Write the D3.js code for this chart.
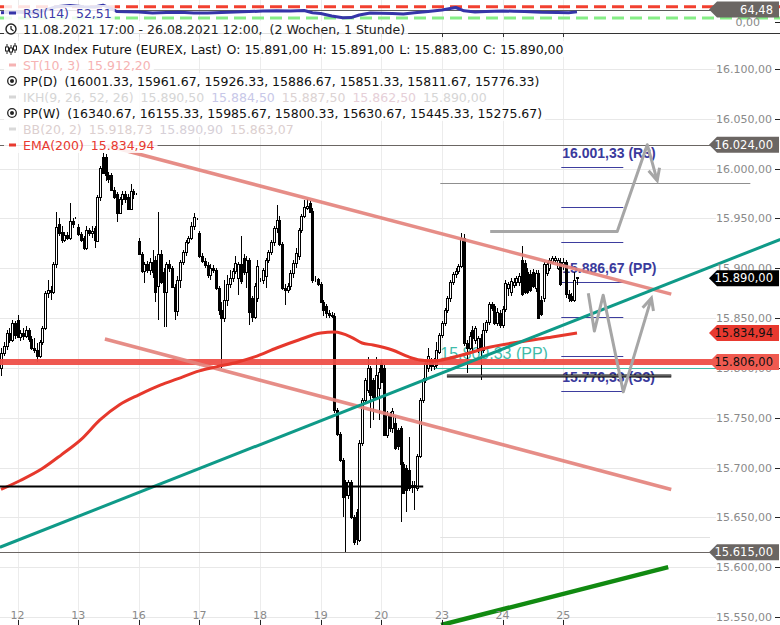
<!DOCTYPE html>
<html><head><meta charset="utf-8">
<script src="https://cdn.jsdelivr.net/npm/d3@7"></script>
<style>body{margin:0;background:#fff}svg{display:block}text{font-family:"DejaVu Sans",sans-serif}</style>
</head><body>
<svg id="c" width="780" height="625"></svg>
<script>
// ---- data ----
const ohlc = [
[15800,15820,15792,15815],[15815,15826,15812,15822],[15822,15838,15818,15835],[15835,15840,15825,15828],[15828,15848,15826,15845],[15845,15847,15829,15833],
[15848,15853,15830,15831],[15831,15838,15827,15835],[15835,15840,15828,15832],[15832,15842,15830,15838],[15838,15840,15826,15829],[15829,15832,15818,15820],
[15820,15830,15815,15818],[15818,15825,15806,15812],[15812,15828,15810,15826],[15826,15842,15823,15840],[15840,15877,15838,15875],[15875,15888,15870,15878],
[15878,15882,15868,15876],[15876,15906,15874,15904],[15904,15956,15900,15941],[15944,15950,15932,15935],[15936,15942,15925,15928],[15928,15936,15926,15933],
[15933,15936,15928,15930],[15930,15966,15928,15947],[15947,15950,15940,15944],[15950,15951,15949,15950],
[15941,15944,15932,15934],[15934,15936,15926,15928],[15930,15932,15918,15920],[15920,15942,15918,15938],[15938,15940,15932,15935],[15935,15942,15930,15937],
[15940,15942,15920,15928],[15928,15974,15926,15972],[15972,16003,15968,16001],[16012,16016,15995,15996],[16012,16015,15988,15994],[15994,15997,15986,15990],
[15994,15996,15978,15979],[15979,15982,15970,15972],[15975,15977,15946,15956],[15956,15972,15954,15970],[15970,15978,15964,15975],[15975,15978,15966,15970],
[15972,15975,15958,15960],[15960,15985,15958,15978],[15978,15980,15970,15975],[15975,15976,15974,15975],
[15927,15930,15913,15914],[15914,15916,15895,15897],[15897,15906,15885,15904],[15904,15907,15895,15898],[15898,15910,15893,15906],[15906,15918,15890,15896],
[15908,15912,15866,15876],[15882,15956,15848,15914],[15914,15918,15884,15886],[15896,15900,15841,15876],[15876,15906,15841,15904],[15904,15908,15896,15900],
[15900,15902,15880,15881],[15881,15884,15848,15857],[15857,15892,15852,15888],[15888,15908,15880,15906],[15906,15918,15903,15916],[15916,15928,15912,15926],
[15926,15932,15924,15930],[15930,15946,15928,15942],[15942,15955,15938,15951],[15949,15950,15948,15949],
[15935,15937,15910,15912],[15912,15915,15905,15907],[15907,15910,15900,15903],[15903,15906,15890,15893],[15893,15904,15888,15900],[15900,15903,15895,15898],
[15898,15900,15878,15880],[15880,15882,15853,15858],[15858,15866,15800,15850],[15850,15888,15846,15868],[15868,15893,15862,15884],[15884,15898,15880,15890],
[15890,15900,15886,15897],[15897,15912,15894,15905],[15890,15906,15873,15904],[15904,15932,15884,15887],[15910,15914,15893,15896],[15896,15912,15880,15908],
[15908,15910,15843,15856],[15870,15872,15846,15851],[15851,15885,15849,15882],[15870,15908,15866,15902],
[15888,15890,15886,15888],[15888,15900,15884,15898],[15892,15910,15880,15908],[15908,15918,15905,15916],[15916,15928,15913,15926],[15926,15942,15922,15940],
[15940,15964,15935,15948],[15948,15952,15922,15924],[15924,15926,15878,15880],[15880,15884,15863,15878],[15878,15885,15875,15882],[15882,15898,15878,15895],
[15895,15908,15890,15905],[15905,15920,15900,15915],[15912,15940,15908,15938],[15938,15954,15935,15952],[15952,15969,15950,15961],[15961,15970,15958,15963],
[15966,15968,15955,15957],[15957,15960,15885,15888],[15889,15892,15886,15889],[15889,15890,15882,15884],
[15884,15886,15865,15866],[15866,15868,15852,15858],[15862,15864,15850,15855],[15855,15858,15850,15853],[15853,15856,15850,15852],[15852,15855,15755,15758],
[15758,15760,15732,15734],[15734,15736,15706,15708],[15708,15710,15650,15671],[15685,15688,15615,15672],[15672,15688,15668,15685],[15685,15687,15648,15650],
[15650,15652,15622,15625],[15655,15658,15622,15628],[15628,15728,15625,15725],[15725,15770,15722,15768],[15768,15790,15766,15788],[15778,15811,15775,15800],
[15800,15802,15740,15773],[15788,15790,15748,15771],[15771,15811,15768,15793],[15780,15800,15748,15796],
[15805,15808,15785,15786],[15800,15803,15732,15733],[15733,15757,15730,15753],[15753,15756,15736,15740],[15740,15760,15735,15757],[15745,15752,15718,15720],
[15738,15740,15718,15722],[15740,15742,15645,15704],[15704,15706,15673,15675],[15700,15703,15655,15678],[15698,15731,15676,15680],[15680,15686,15674,15682],
[15682,15686,15657,15680],[15680,15714,15676,15712],[15712,15770,15710,15768],[15768,15790,15765,15788],[15788,15808,15785,15805],[15800,15820,15796,15812],
[15808,15810,15797,15802],[15802,15810,15798,15808],[15803,15826,15800,15818],[15816,15835,15814,15833],
[15833,15847,15830,15845],[15845,15860,15842,15858],[15858,15872,15855,15870],[15870,15888,15866,15886],[15886,15896,15883,15894],[15894,15900,15890,15897],
[15897,15904,15894,15902],[15902,15935,15900,15930],[15930,15934,15822,15825],[15825,15828,15795,15820],[15820,15836,15818,15832],[15838,15842,15815,15830],
[15828,15842,15824,15840],[15820,15832,15815,15830],[15830,15834,15788,15818],[15818,15845,15815,15838],[15838,15848,15835,15846],[15846,15866,15843,15864],
[15864,15866,15857,15860],[15862,15864,15843,15845],[15845,15860,15842,15856],[15855,15858,15840,15843],
[15843,15862,15840,15859],[15859,15888,15856,15885],[15880,15886,15872,15884],[15876,15890,15872,15887],[15883,15890,15880,15886],[15886,15892,15882,15890],
[15886,15895,15882,15892],[15908,15922,15872,15874],[15905,15908,15874,15876],[15896,15900,15874,15876],[15894,15898,15876,15878],[15896,15899,15880,15882],
[15880,15898,15876,15895],[15895,15898,15849,15850],[15868,15872,15852,15854],[15870,15906,15866,15904],[15895,15906,15892,15904],[15900,15910,15897,15908],
[15906,15912,15904,15910],[15908,15912,15905,15910],[15900,15910,15898,15908],[15906,15910,15882,15884],
[15904,15910,15898,15906],[15906,15908,15870,15874],[15874,15878,15866,15870],[15872,15875,15866,15868],[15868,15896,15866,15888],[15891,15891,15883,15890]
];
const dayLabels = ["12","13","16","17","18","19","20","23","24","25"];
const dayStartBar = [6,28,50,72,94,116,138,160,182,204];
const yTicks = [16100,16050,16000,15950,15900,15850,15800,15750,15700,15650,15600,15550];

const emaBars   = [0,7,15,22,29,36,43,50,58,64,72,78,86,92,100,108,116,121,127,131,135,142,148,152,157,163,170,176,188,200,209];
const emaValues = [15678,15687,15699,15713,15728,15748,15763,15773,15783,15789,15797,15801,15806,15811,15820,15828,15835,15836,15831,15825,15823,15818,15811,15808,15807,15810,15815,15820,15826,15831,15834.94];

const rsiBars   = [0,6,12,16,20,25,30,34,37,40,42,46,50,55,60,65,70,75,80,85,90,95,100,105,110,113,116,120,124,127,130,134,138,142,146,150,155,160,165,168,172,176,182,186,190,196,202,206,209];
const rsiValues = [48,52,44,62,80,86,80,78,88,70,54.5,53,51.8,47,49.1,50,46.5,47,49.1,51.8,54,57.1,58,57.1,59.8,48,44,30.5,21,22,35.9,46.5,45,43.8,41.2,48,55,62,75.7,58,52,54.5,57.1,56,54.5,50,49.1,48,52.51];
const rsiLevels = [80, 20];
const rsiMarker = 64.48;

const pivotDaily  = [16001.33,15961.67,15926.33,15886.67,15851.33,15811.67,15776.33];
const pivotNames  = ["R3","R2","R1","PP","S1","S2","S3"];
const pivotWeekly = [16340.67,16155.33,15985.67,15800.33,15630.67,15445.33,15275.67];
const stValue = 15912.20;
const ikhValues = [15890.50,15884.50,15887.50,15862.50,15890.00];
const bbValues  = [15918.73,15890.90,15863.07];

const levelHigh = 16024, levelLow = 15615, levelRed = 15806;
const trendUpper = [[38.5,16023],[243.2,15874]];
const trendLower = [[37.7,15829],[243.2,15678]];
const trendTeal  = [[-0.4,15620],[282.8,15929]];
const trendGreen = [[159.7,15542],[242.1,15600]];
const lineBlackLeft  = [[-0.5,15681],[153.2,15681]];
const lineBlackRight = [[161.8,15792],[243.2,15792]];
const arrowA = [[177.5,15937],[223.6,15937],[234.5,16024],[238.1,15988]];
const arrowB = [[213.1,15875],[215.3,15837],[218.5,15873],[225.8,15776],[236,15870]];
const dailyPivotSpan = [203.3,225.8];
const weeklySpan = [159.4,271.9];

// ---- setup ----
const W=780,H=625;
const svg=d3.select('#c');
const loc=d3.formatLocale({decimal:",",thousands:".",grouping:[3],currency:["",""]});
const fmt=loc.format(",.2f");
const x=d3.scaleLinear().domain([0,ohlc.length-1]).range([1,577]);
const y=d3.scaleLinear().domain([15550,16100]).range([617,69]);
const ry=d3.scaleLinear().domain([80,20]).range([6.7,18]);
const px=v=>Math.round(v)+0.5;
const line=d3.line().x(d=>x(d[0])).y(d=>y(d[1]));
const AXR=716;

// grid
const grid=svg.append('g');
grid.selectAll('line.v').data(dayStartBar).join('line')
 .attr('x1',d=>px(x(d))).attr('x2',d=>px(x(d))).attr('y1',0).attr('y2',H)
 .attr('stroke','#ececec');
grid.selectAll('line.h').data(yTicks).join('line')
 .attr('x1',0).attr('x2',AXR).attr('y1',d=>px(y(d))).attr('y2',d=>px(y(d)))
 .attr('stroke','#e8e8e8');

// RSI panel
const rp=svg.append('g');
rp.selectAll('line.lv').data(rsiLevels).join('line')
 .attr('x1',0).attr('x2',W).attr('y1',d=>ry(d)).attr('y2',d=>ry(d))
 .attr('stroke',(d,i)=>i?'#86ee86':'#f2402f').attr('stroke-width',3).attr('stroke-dasharray','12,6');
rp.append('line').attr('x1',0).attr('x2',AXR).attr('y1',px(ry(rsiMarker))).attr('y2',px(ry(rsiMarker)))
 .attr('stroke','#5a5a5a').attr('stroke-width',1);
rp.append('path').datum(rsiBars.map((b,i)=>[b,rsiValues[i]]))
 .attr('d',d3.line().x(d=>x(d[0])).y(d=>ry(d[1])))
 .attr('fill','none').attr('stroke','#3535a8').attr('stroke-width',3).attr('stroke-linejoin','round');
svg.append('line').attr('x1',0).attr('x2',W).attr('y1',33.5).attr('y2',33.5).attr('stroke','#333');
svg.selectAll('line.rt').data(dayStartBar).join('line')
 .attr('x1',d=>px(x(d))).attr('x2',d=>px(x(d))).attr('y1',33).attr('y2',37).attr('stroke','#333');

// main panel (clipped)
svg.append('clipPath').attr('id','mc').append('rect').attr('x',0).attr('y',34).attr('width',W).attr('height',H-34);
const m=svg.append('g').attr('clip-path','url(#mc)');

// horizontal levels (thin)
[[levelHigh,'#6b6663'],[levelLow,'#6b6663']].forEach(([v,c])=>{
 m.append('line').attr('x1',0).attr('x2',AXR).attr('y1',px(y(v))).attr('y2',px(y(v))).attr('stroke',c).attr('stroke-width',1);
});
// weekly pivots
m.append('line').attr('x1',x(weeklySpan[0])).attr('x2',x(weeklySpan[1])).attr('y1',px(y(pivotWeekly[2]))).attr('y2',px(y(pivotWeekly[2]))).attr('stroke','#8f8f8f');
m.append('line').attr('x1',x(weeklySpan[0])).attr('x2',AXR-6).attr('y1',px(y(pivotWeekly[4]))).attr('y2',px(y(pivotWeekly[4]))).attr('stroke','#e2e2e2');
m.append('line').attr('x1',x(157)).attr('x2',AXR).attr('y1',px(y(pivotWeekly[3]))).attr('y2',px(y(pivotWeekly[3]))).attr('stroke','#3fbcaa').attr('stroke-width',1);
m.append('text').attr('x',x(weeklySpan[0])).attr('y',y(pivotWeekly[3])-9)
 .style('font-family','"Liberation Sans",Arial').style('font-size','16px').attr('fill','#3fbcaa')
 .text(fmt(pivotWeekly[3])+' (PP)');
// daily pivots
m.selectAll('line.pd').data(pivotDaily).join('line')
 .attr('x1',x(dailyPivotSpan[0])).attr('x2',x(dailyPivotSpan[1]))
 .attr('y1',d=>px(y(d))).attr('y2',d=>px(y(d))).attr('stroke','#3d3d9e');
m.selectAll('text.pd').data(pivotDaily.map((v,i)=>[v,pivotNames[i]]).filter(d=>["R3","PP","S3"].includes(d[1]))).join('text')
 .attr('x',x(dailyPivotSpan[0])+1).attr('y',d=>y(d[0])-9)
 .style('font-family','"Liberation Sans",Arial').style('font-size','14px').style('font-weight','bold')
 .attr('fill','#3a3a9c').text(d=>fmt(d[0])+' ('+d[1]+')');

// candles
const cg=m.append('g').attr('shape-rendering','crispEdges');
cg.selectAll('line').data(ohlc).join('line')
 .attr('x1',(d,i)=>px(x(i))).attr('x2',(d,i)=>px(x(i)))
 .attr('y1',d=>y(d[1])).attr('y2',d=>y(d[2])).attr('stroke','#000');
cg.selectAll('rect').data(ohlc).join('rect')
 .attr('x',(d,i)=>Math.round(x(i))-0.5).attr('width',2)
 .attr('y',d=>Math.round(y(Math.max(d[0],d[3])))+0.5)
 .attr('height',d=>Math.max(0,Math.round(Math.abs(y(d[0])-y(d[3])))))
 .attr('fill',d=>d[3]>=d[0]?'#fff':'#000').attr('stroke','#000').attr('stroke-width',1);

// red level
m.append('line').attr('x1',0).attr('x2',AXR).attr('y1',y(levelRed)).attr('y2',y(levelRed)).attr('stroke','#ef5048').attr('stroke-width',6).attr('opacity',0.95);
// trend lines
m.append('path').attr('d',line(trendLower)).attr('stroke','#e4837d').attr('stroke-width',3.5).attr('fill','none').attr('opacity',0.92);
m.append('path').attr('d',line(trendUpper)).attr('stroke','#e4837d').attr('stroke-width',3.5).attr('fill','none').attr('opacity',0.92);
m.append('path').datum(emaBars.map((b,i)=>[b,emaValues[i]])).attr('d',line.curve(d3.curveMonotoneX))
 .attr('stroke','#e6382c').attr('stroke-width',3).attr('fill','none');
line.curve(d3.curveLinear);
m.append('path').attr('d',line(trendTeal)).attr('stroke','#0f9a88').attr('stroke-width',3).attr('fill','none');
m.append('path').attr('d',line(trendGreen)).attr('stroke','#118a11').attr('stroke-width',4.5).attr('fill','none');
m.append('path').attr('d',line(lineBlackLeft)).attr('stroke','#000').attr('stroke-width',2).attr('fill','none');
m.append('path').attr('d',line(lineBlackRight)).attr('stroke','#000').attr('stroke-width',3).attr('fill','none');
m.append('path').attr('d',line(lineBlackRight)).attr('stroke','#999').attr('stroke-width',1).attr('fill','none');
// arrows
function arrow(pts){
 m.append('path').attr('d',line(pts)).attr('stroke','#a6a6a6').attr('stroke-width',3).attr('fill','none').attr('stroke-linejoin','round');
 const a=pts[pts.length-2],b=pts[pts.length-1];
 const x1=x(a[0]),y1=y(a[1]),x2=x(b[0]),y2=y(b[1]);
 const ang=Math.atan2(y2-y1,x2-x1),L=13,sp=0.45;
 const p1=[x2-L*Math.cos(ang-sp),y2-L*Math.sin(ang-sp)],p2=[x2-L*Math.cos(ang+sp),y2-L*Math.sin(ang+sp)];
 m.append('path').attr('d',`M${p1}L${x2},${y2}L${p2}`).attr('stroke','#a6a6a6').attr('stroke-width',3).attr('fill','none');
}
arrow(arrowA);arrow(arrowB);

// legend
function legendRow(yc,items,icon,gap){
 const g=svg.append('g');
 const t=g.append('text').attr('x',23).attr('y',yc+4.5).style('font-size','12.5px');
 items.forEach((it,k)=>t.append('tspan').attr('fill',it.c).attr('dx',k?(gap||7):0).text(it.t));
 const bb=t.node().getBBox();
 g.insert('rect','text').attr('x',4).attr('y',yc-8).attr('width',bb.x+bb.width-1).attr('height',16).attr('fill','#fff').attr('opacity',0.85);
 if(icon) icon(g,yc);
}
const dash=c=>(g,yc)=>g.append('rect').attr('x',9).attr('y',yc-1.5).attr('width',7).attr('height',3).attr('fill',c);
const radio=(g,yc)=>{g.append('circle').attr('cx',12).attr('cy',yc).attr('r',4.3).attr('fill','none').attr('stroke','#222').attr('stroke-width',1.3);
 g.append('circle').attr('cx',12).attr('cy',yc).attr('r',2).attr('fill','#222');};
const last=ohlc[ohlc.length-1];
legendRow(13,[{t:'RSI(14)',c:'#3b3ba6'},{t:fmt(rsiValues[rsiValues.length-1]),c:'#3b3ba6'}],dash('#3535a8'));
legendRow(29,[{t:'11.08.2021 17:00 - 26.08.2021 12:00,',c:'#222'},{t:'(2 Wochen, 1 Stunde)',c:'#222'}],(g,yc)=>{
 g.append('circle').attr('cx',11).attr('cy',yc).attr('r',5).attr('fill','none').attr('stroke','#222').attr('stroke-width',1.4);
 g.append('path').attr('d',`M11,${yc-3}L11,${yc}L13.5,${yc+2}`).attr('fill','none').attr('stroke','#222').attr('stroke-width',1.3);});
legendRow(49,[{t:'DAX Index Future (EUREX, Last)',c:'#111'},{t:'O: '+fmt(last[0]),c:'#111'},{t:'H: '+fmt(last[1]),c:'#111'},{t:'L: '+fmt(last[2]),c:'#111'},{t:'C: '+fmt(last[3]),c:'#111'}],(g,yc)=>{
 [[7,-5,5,-2,2],[11,-4,6,-1,3],[15,-6,4,-3,1]].forEach(([cx,a,b,c,d])=>{
  g.append('line').attr('x1',cx).attr('x2',cx).attr('y1',yc+a).attr('y2',yc+b).attr('stroke','#222');
  g.append('rect').attr('x',cx-1.5).attr('y',yc+c).attr('width',3).attr('height',d-c).attr('fill','#fff').attr('stroke','#222');});},5);
legendRow(65,[{t:'ST(10, 3)',c:'#f6b3b3'},{t:fmt(stValue),c:'#f6b3b3'}],dash('#f6b3b3'));
legendRow(81,[{t:'PP(D)',c:'#111'},{t:'('+pivotDaily.map(v=>v.toFixed(2)).join(', ')+')',c:'#111'}],radio);
legendRow(97,[{t:'IKH(9, 26, 52, 26)',c:'#d6d6d6'}].concat(ikhValues.map((v,i)=>({t:fmt(v),c:['#d6d6d6','#c8c8e8','#dcd3d3','#e6cfd8','#d6d6d6'][i]}))),dash('#d6d6d6'));
legendRow(113,[{t:'PP(W)',c:'#111'},{t:'('+pivotWeekly.map(v=>v.toFixed(2)).join(', ')+')',c:'#111'}],radio);
legendRow(129,[{t:'BB(20, 2)',c:'#dccfcf'}].concat(bbValues.map((v,i)=>({t:fmt(v),c:['#dccfcf','#d6d0d8','#dccfcf'][i]}))),dash('#d9d9d9'));
legendRow(145,[{t:'EMA(200)',c:'#e8392f'},{t:fmt(emaValues[emaValues.length-1]),c:'#e8392f'}],dash('#e8392f'));

// right axis
const ax=svg.append('g');
ax.selectAll('text').data(yTicks).join('text').attr('x',772).attr('y',d=>y(d)+4)
 .attr('text-anchor','end').style('font-size','11px').attr('fill','#8a8a8a').text(d=>fmt(d));
ax.selectAll('line').data(yTicks).join('line').attr('x1',775).attr('x2',780).attr('y1',d=>px(y(d))).attr('y2',d=>px(y(d))).attr('stroke','#222');
svg.append('text').attr('x',760).attr('y',ry(0)+4).attr('text-anchor','end').style('font-size','11px').attr('fill','#8a8a8a').text(fmt(0));
svg.append('line').attr('x1',775).attr('x2',780).attr('y1',px(ry(0))).attr('y2',px(ry(0))).attr('stroke','#222');
// bottom axis
const bx=svg.append('g');
bx.selectAll('text').data(dayStartBar).join('text').attr('x',d=>x(d)).attr('y',619)
 .attr('text-anchor','middle').style('font-size','11px').attr('fill','#8a8a8a').text((d,i)=>dayLabels[i]);
bx.selectAll('line').data(dayStartBar).join('line').attr('x1',d=>px(x(d))).attr('x2',d=>px(x(d))).attr('y1',620).attr('y2',625).attr('stroke','#222');

// price tags (overlap the axis labels, as in the reference)
function tag(yc,label,fill,tc){
 const g=svg.append('g');
 g.append('path').attr('d',`M709,${yc}L717,${yc-8}L779,${yc-8}L779,${yc+8}L717,${yc+8}Z`).attr('fill',fill);
 g.append('text').attr('x',773).attr('y',yc+4).attr('text-anchor','end').style('font-size','11.5px').attr('fill',tc).text(label);
}
tag(ry(rsiMarker),fmt(rsiMarker),'#6b6663','#fff');
tag(y(levelHigh),fmt(levelHigh),'#6b6663','#fff');
tag(y(last[3]),fmt(last[3]),'#000','#fff');
tag(y(emaValues[emaValues.length-1]),fmt(emaValues[emaValues.length-1]),'#e8392f','#111');
tag(y(levelRed),fmt(levelRed),'#f05a50','#111');
tag(y(levelLow),fmt(levelLow),'#6b6663','#fff');
</script>
</body></html>
